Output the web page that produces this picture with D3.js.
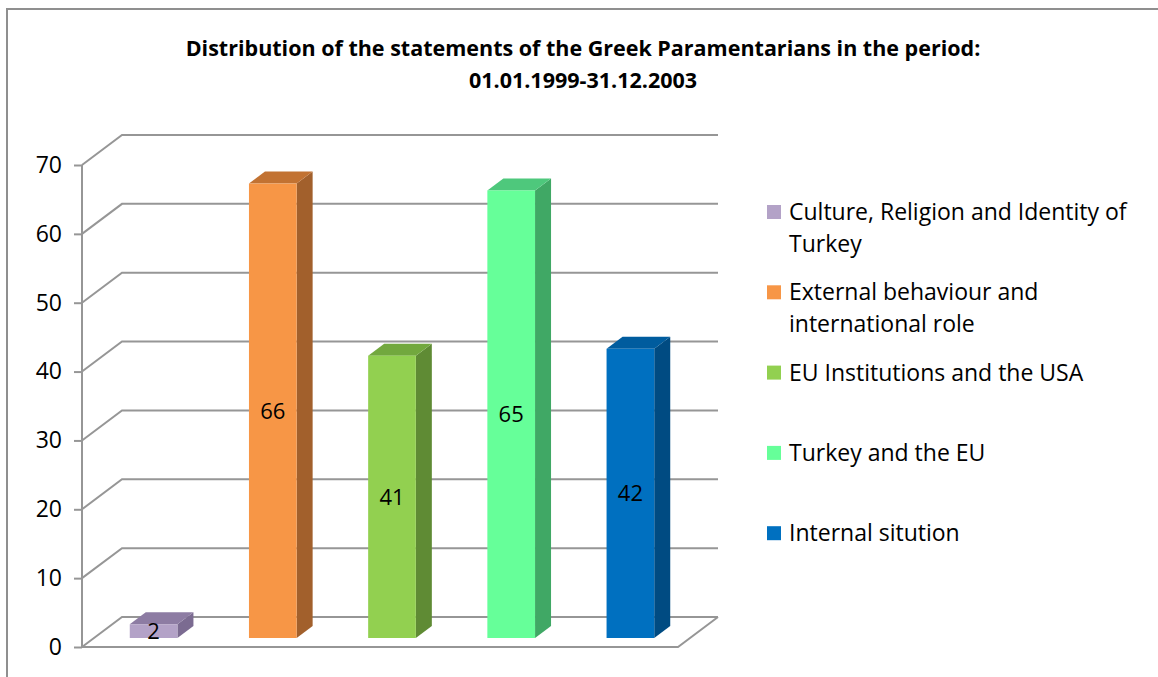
<!DOCTYPE html>
<html>
<head>
<meta charset="utf-8">
<script src="https://cdn.jsdelivr.net/npm/d3@7"></script>
<style>
  body { margin: 0; background: #fff; }
  svg { display: block; font-family: "Open Sans", Lato, sans-serif; }
</style>
</head>
<body>
<svg id="chart" width="1158" height="677"></svg>
<script>
const categories = [
    "Culture, Religion and Identity of Turkey",
    "External behaviour and international role",
    "EU Institutions and the USA",
    "Turkey and the EU",
    "Internal sitution"
];
const values = [2, 66, 41, 65, 42];
const legendLines = [
    ["Culture, Religion and Identity of", "Turkey"],
    ["External behaviour and", "international role"],
    ["EU Institutions and the USA"],
    ["Turkey and the EU"],
    ["Internal sitution"]
];
const yTicks = [0, 10, 20, 30, 40, 50, 60, 70];
const titleLines = [
    "Distribution of the statements of the Greek Paramentarians in the period:",
    "01.01.1999-31.12.2003"
];

const FRONT = ["#b3a2c7", "#f79646", "#92d050", "#66ff99", "#0070c0"];
const TOP   = ["#8d7ca3", "#c27232", "#72a83e", "#4ec87c", "#005c9e"];
const SIDE  = ["#7b6b91", "#a2602c", "#5f8b34", "#40a865", "#004b82"];

const GRID = "#969696";
const svg = d3.select("#chart");

// depth of the 3d box and where bars sit inside it
const depth = [40, -30];
const d0 = 0.3, d1 = 0.7;

const x = d3.scaleBand()
            .domain(categories)
            .range([82, 678])
            .paddingInner(0.6)
            .paddingOuter(0.3);
const y = d3.scaleLinear()
            .domain([0, 70])
            .range([647, 165]);

// outer frame
svg.append("path")
    .attr("d", "M7,677 V9 H1158")
    .attr("fill", "none")
    .attr("stroke", "#8f8f8f")
    .attr("stroke-width", 2);

// title
svg.append("g")
    .selectAll("text")
    .data(titleLines)
    .enter()
    .append("text")
    .attr("x", 583)
    .attr("y", (d, i) => 56 + i * 32)
    .attr("text-anchor", "middle")
    .attr("font-weight", "bold")
    .attr("font-size", 21.5)
    .attr("fill", "#000")
    .text(d => d);

// gridlines: side wall diagonal + back wall line
const [x0, x1] = x.range();
const grid = svg.append("g");
yTicks.forEach(t => {
    grid.append("path")
        .attr("d", `M${x0},${y(t)} L${x0 + depth[0]},${y(t) + depth[1]} H${x1 + depth[0]}`)
        .attr("fill", "none")
        .attr("stroke", GRID)
        .attr("stroke-width", 2);
});
// floor front edge
grid.append("path")
    .attr("d", `M${x0},${y(0)} H${x1} L${x1 + depth[0]},${y(0) + depth[1]}`)
    .attr("fill", "none")
    .attr("stroke", GRID)
    .attr("stroke-width", 2);

// value axis
const yAxis = d3.axisLeft(y)
                .tickValues(yTicks)
                .tickSize(8)
                .tickPadding(12);
const axisG = svg.append("g")
    .attr("transform", `translate(${x0},0)`)
    .call(yAxis);
axisG.selectAll("path, line").attr("stroke", GRID).attr("stroke-width", 2);
axisG.select(".domain").attr("d", `M0,${y(0)} V${y(70)}`);
axisG.selectAll("text")
    .attr("font-family", "'Open Sans', Lato, sans-serif")
    .attr("font-size", 23)
    .attr("fill", "#000");

// bars
const bars = svg.append("g")
    .selectAll("g")
    .data(values)
    .enter()
    .append("g");

const geom = (v, i) => {
    const c = categories[i];
    const left = x(c) + depth[0] * d0;
    const right = left + x.bandwidth();
    const top = y(v) + depth[1] * d0;
    const bottom = y(0) + depth[1] * d0;
    const dx = depth[0] * (d1 - d0), dy = depth[1] * (d1 - d0);
    return { left, right, top, bottom, dx, dy };
};

bars.append("path")
    .attr("fill", (d, i) => SIDE[i])
    .attr("d", (d, i) => {
        const g = geom(d, i);
        return `M${g.right},${g.top} l${g.dx},${g.dy} V${g.bottom + g.dy} L${g.right},${g.bottom} Z`;
    });
bars.append("path")
    .attr("fill", (d, i) => TOP[i])
    .attr("d", (d, i) => {
        const g = geom(d, i);
        return `M${g.left},${g.top} l${g.dx},${g.dy} H${g.right + g.dx} L${g.right},${g.top} Z`;
    });
bars.append("rect")
    .attr("fill", (d, i) => FRONT[i])
    .attr("x", (d, i) => geom(d, i).left)
    .attr("y", (d, i) => geom(d, i).top)
    .attr("width", x.bandwidth())
    .attr("height", (d, i) => geom(d, i).bottom - geom(d, i).top);
bars.append("text")
    .attr("x", (d, i) => geom(d, i).left + x.bandwidth() / 2)
    .attr("y", (d, i) => (geom(d, i).top + geom(d, i).bottom) / 2 + 8)
    .attr("text-anchor", "middle")
    .attr("font-size", 22)
    .attr("fill", "#000")
    .text(d => d);

// legend
const legend = svg.append("g")
    .selectAll("g")
    .data(legendLines)
    .enter()
    .append("g")
    .attr("transform", (d, i) => `translate(767, ${212 + i * 80.3})`);
legend.append("rect")
    .attr("x", 0)
    .attr("y", -7)
    .attr("width", 14)
    .attr("height", 14)
    .attr("fill", (d, i) => FRONT[i]);
legend.append("text")
    .attr("x", 22)
    .attr("font-size", 23)
    .attr("fill", "#000")
    .selectAll("tspan")
    .data(d => d)
    .enter()
    .append("tspan")
    .attr("x", 22)
    .attr("y", (d, i) => 8 + i * 32)
    .text(d => d);
</script>
</body>
</html>
